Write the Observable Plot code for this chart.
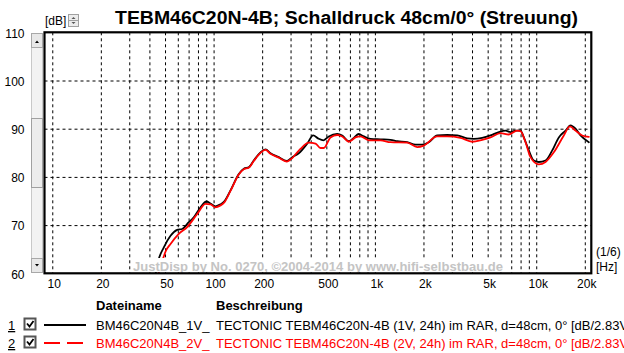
<!DOCTYPE html>
<html>
<head>
<meta charset="utf-8">
<script src="https://cdn.jsdelivr.net/npm/d3@7"></script>
<script src="https://cdn.jsdelivr.net/npm/@observablehq/plot@0.6"></script>
<style>
  html, body { margin: 0; padding: 0; background: #fff; }
  #wrap { position: relative; width: 624px; height: 353px; overflow: hidden; font-family: Arial, "Liberation Sans", sans-serif; }
  #chart { position: absolute; left: 0; top: 0; }
  #deco { position: absolute; left: 0; top: 0; pointer-events: none; }
</style>
</head>
<body>
<div id="wrap">
  <div id="chart"></div>
  <svg id="deco" width="624" height="353"></svg>
</div>
<script>
// ---- data ----
const titleText = "TEBM46C20N-4B; Schalldruck 48cm/0° (Streuung)";
const xTickValues = [10, 20, 50, 100, 200, 500, 1000, 2000, 5000, 10000, 20000];
const xTickLabels = ["10", "20", "50", "100", "200", "500", "1k", "2k", "5k", "10k", "20k"];
const yTickValues = [60, 70, 80, 90, 100, 110];
const gridX = [10,20,30,40,50,60,70,80,90,100,200,300,400,500,600,700,800,900,1000,2000,3000,4000,5000,6000,7000,8000,9000,10000,20000];
const gridY = [70, 80, 90, 100];

const series1Name = "BM46C20N4B_1V_";
const series1Desc = "TECTONIC TEBM46C20N-4B (1V, 24h) im RAR, d=48cm, 0° [dB/2.83V";
const series1Freq = [43.4,45.0,48.8,53.7,59.0,63.4,69.7,74.8,82.4,89.7,95.0,102,109.6,114.9,126.4,142.3,152.8,164.1,176.2,194,208.3,223.8,251.8,281.2,305,335,377.7,411.6,440.9,476.8,514.1,579.8,622.6,684.2,734.8,789,847.5,932.4,1075,1241,1365,1574,1773,1950,2143,2416,2787,3215,3708,4074,4593,5171,5823,6406,6879,7388,7936,8318,8933,9594,10304,11340,12480,13710,15090,16200,17400,18690,21040];
const series1Db   = [60.0,62.6,65.5,67.9,69.1,69.3,70.7,71.7,73.8,75.0,74.6,74.0,74.4,74.9,77.3,80.7,81.8,82.1,83.5,85.2,85.8,85.0,84.2,83.4,84.2,85.0,87.0,88.7,88.1,87.7,88.5,89.0,88.7,87.5,88.2,89.0,88.5,88.0,87.9,87.8,87.5,87.3,86.8,86.8,87.3,88.7,88.8,88.7,88.1,88.0,88.2,88.7,89.4,89.7,89.4,89.7,89.7,88.3,85.6,83.5,83.2,83.5,85.6,88.3,89.7,90.8,90.1,88.7,87.3];

const series2Name = "BM46C20N4B_2V_";
const series2Desc = "TECTONIC TEBM46C20N-4B (2V, 24h) im RAR, d=48cm, 0° [dB/2.83V";
const series2Freq = [45.2,47.7,50.3,53.7,60.4,68.1,78.6,88.5,95,102,109.6,114.9,126.4,142.3,152.8,164.1,176.2,194,208.3,223.8,251.8,281.2,305,320,343,386.5,425.3,456.6,478.6,526.8,579.8,622.6,684.2,752.9,808.5,910.2,1075,1241,1574,1816,1995,2416,2787,3369,3983,4593,5171,5966,6714,7570,7936,8523,9154,10304,11340,12760,14720,16040,17400,19140,21040];
const series2Db   = [60.0,62.6,64.8,66.2,68.3,69.7,72.4,74.5,74.4,73.8,74.2,74.7,77.2,80.6,81.7,82.0,83.4,85.1,85.7,84.9,84.1,83.3,84.0,84.8,85.9,87.2,87.0,86.1,86.1,88.3,88.8,88.5,87.4,88.3,88.5,87.7,87.7,87.3,87.2,86.3,86.6,88.5,88.5,88.2,87.4,87.8,88.3,89.2,88.9,89.7,89.6,87.3,84.2,82.7,83.2,85.2,88.7,90.6,89.7,88.7,88.4];

const data1 = series1Freq.map((f, i) => ({f, db: series1Db[i]}));
const data2 = series2Freq.map((f, i) => ({f, db: series2Db[i]}));
const xTicks = xTickValues.map((v, i) => ({v, label: xTickLabels[i]}));

const FONT = 'Arial, "Liberation Sans", sans-serif';

const chart = Plot.plot({
  width: 624,
  height: 295,
  marginLeft: 44.5,
  marginRight: 32.7,
  marginTop: 32.3,
  marginBottom: 21.7,
  style: {fontFamily: FONT, fontSize: "12px", color: "black", background: "transparent", overflow: "visible"},
  x: {type: "log", domain: [8.95, 21950], axis: null},
  y: {domain: [60, 110]},
  marks: [
    Plot.ruleX(gridX, {stroke: "black", strokeWidth: 1, strokeDasharray: "3,3"}),
    Plot.ruleY(gridY, {stroke: "black", strokeWidth: 1, strokeDasharray: "3,3"}),
    Plot.line(data1, {x: "f", y: "db", stroke: "black", strokeWidth: 1.8, curve: "monotone-x", clip: true}),
    Plot.line(data2, {x: "f", y: "db", stroke: "#ff0000", strokeWidth: 1.8, curve: "monotone-x", clip: true}),
    Plot.text(xTicks, {x: "v", text: "label", frameAnchor: "bottom", lineAnchor: "top", dy: 6, dx: 1.5, fontSize: 12, fill: "black"}),
    Plot.axisY({ticks: yTickValues, tickSize: 0, tickPadding: 20.5, fontSize: 12, label: null, dy: 1})
  ]
});
document.getElementById("chart").appendChild(chart);

// ---- decorations (title, watermark, scrollbar widget, legend) ----
const NS = "http://www.w3.org/2000/svg";
function el(parent, tag, attrs, text) {
  const e = document.createElementNS(NS, tag);
  for (const k in attrs) if (attrs[k] != null) e.setAttribute(k, attrs[k]);
  if (text != null) e.textContent = text;
  parent.appendChild(e);
  return e;
}
const deco = document.getElementById("deco");

// watermark on an opaque box (hides grid and curves behind it, as in the reference)
el(deco, "rect", {x: 131, y: 258, width: 375, height: 14, fill: "#fff"});
el(deco, "text", {x: 133, y: 270.7, "font-family": FONT, "font-size": 13.5, "font-weight": "bold", fill: "#c4c4c4", textLength: 370, lengthAdjust: "spacingAndGlyphs"}, "JustDisp by No. 0270, ©2004-2014 by www.hifi-selbstbau.de");

// plot frame (2px black)
el(deco, "rect", {x: 44.5, y: 32.3, width: 546.8, height: 241, fill: "none", stroke: "#000", "stroke-width": 2.2});

// title
el(deco, "text", {x: 115, y: 24, "font-family": FONT, "font-size": 18, "font-weight": "bold", fill: "black", textLength: 463, lengthAdjust: "spacingAndGlyphs"}, titleText);

// [dB] with spin box
el(deco, "text", {x: 45, y: 25, "font-family": FONT, "font-size": 12, fill: "black"}, "[dB]");
el(deco, "rect", {x: 68.5, y: 14.5, width: 10, height: 12, fill: "#ececec", stroke: "#a0a0a0"});
el(deco, "line", {x1: 68.5, y1: 20.5, x2: 78.5, y2: 20.5, stroke: "#a0a0a0"});
el(deco, "path", {d: "M71.5,19 L73.5,17 L75.5,19 Z", fill: "#555"});
el(deco, "path", {d: "M71.5,22 L73.5,24 L75.5,22 Z", fill: "#555"});

// scrollbar widget
el(deco, "rect", {x: 31.5, y: 33.5, width: 11, height: 239, fill: "#f2f2f2", stroke: "#c8c8c8"});
el(deco, "rect", {x: 31.5, y: 33.5, width: 11, height: 14, fill: "#e8e8e8", stroke: "#a8a8a8"});
el(deco, "path", {d: "M35,43 L37,40.5 L39,43 Z", fill: "#000"});
el(deco, "rect", {x: 31.5, y: 258.5, width: 11, height: 14, fill: "#e8e8e8", stroke: "#a8a8a8"});
el(deco, "path", {d: "M35,264 L37,266.5 L39,264 Z", fill: "#000"});
el(deco, "rect", {x: 31.5, y: 118.5, width: 11, height: 69, fill: "#ececec", stroke: "#a0a0a0"});

// frequency unit
el(deco, "text", {x: 596, y: 256, "font-family": FONT, "font-size": 12, fill: "black"}, "(1/6)");
el(deco, "text", {x: 596, y: 271, "font-family": FONT, "font-size": 12, fill: "black"}, "[Hz]");

// legend
el(deco, "text", {x: 96, y: 310, "font-family": FONT, "font-size": 13, "font-weight": "bold", fill: "black"}, "Dateiname");
el(deco, "text", {x: 216, y: 310, "font-family": FONT, "font-size": 13, "font-weight": "bold", fill: "black"}, "Beschreibung");

function legendRow(y, idx, color, dashed, name, desc) {
  el(deco, "text", {x: 8, y: y, "font-family": FONT, "font-size": 13, fill: "black", "text-decoration": "underline"}, idx);
  el(deco, "rect", {x: 24.5, y: y - 11.5, width: 11, height: 11, fill: "#fff", stroke: "#555", "stroke-width": 2});
  el(deco, "path", {d: `M27,${y-6.5} L29.5,${y-3.5} L33.5,${y-9}`, fill: "none", stroke: "#000", "stroke-width": 1.8});
  el(deco, "line", {x1: 44, y1: y - 5, x2: 86, y2: y - 5, stroke: color, "stroke-width": 2, "stroke-dasharray": dashed ? "16,7" : null});
  el(deco, "text", {x: 96, y: y, "font-family": FONT, "font-size": 13, fill: color}, name);
  el(deco, "text", {x: 216, y: y, "font-family": FONT, "font-size": 13, fill: color}, desc);
}
legendRow(330, "1", "#000000", false, series1Name, series1Desc);
legendRow(348, "2", "#ff0000", true, series2Name, series2Desc);
</script>
</body>
</html>
